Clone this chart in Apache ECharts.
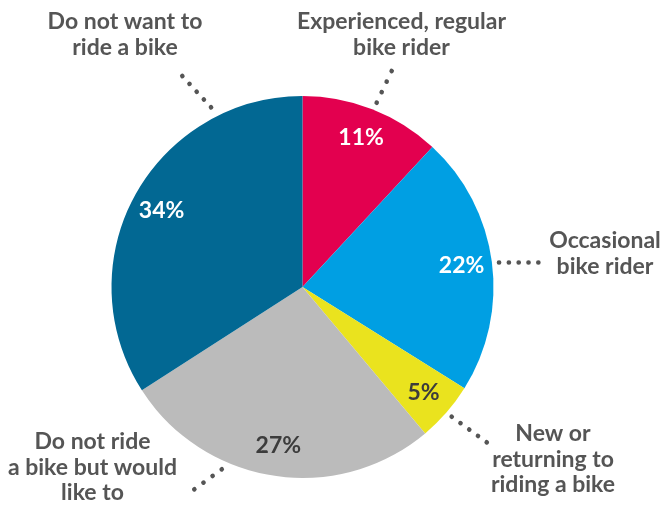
<!DOCTYPE html>
<html><head><meta charset="utf-8">
<script src="https://cdn.jsdelivr.net/npm/echarts@6/dist/echarts.min.js"></script>
<style>html,body{margin:0;padding:0;background:#fff}#c{width:663px;height:509px}</style>
</head><body><div id="c"></div>
<script>
const categories = ['Experienced, regular\nbike rider','Occasional\nbike rider','New or\nreturning to\nriding a bike','Do not ride\na bike but would\nlike to','Do not want to\nride a bike'];
const shares = [11.9, 22, 5, 27, 34.1];
const shareLabels = ['11%','22%','5%','27%','34%'];
const colors = ['#E3004F','#009FE3','#EAE31E','#BBBBBB','#026893'];
const labelColors = ['#ffffff','#ffffff','#3c3c3c','#3c3c3c','#ffffff'];

const FONT = 'Lato';
const TXT = '#555555';
const center = [302.5, 287];
const R = 191;

const chart = echarts.init(document.getElementById('c'), null, {renderer:'canvas'});
const data = categories.map((c,i)=>({name:c, value:shares[i], itemStyle:{color:colors[i]}}));
const labelData = categories.map((c,i)=>({name:c, value:shares[i], itemStyle:{color:'rgba(0,0,0,0)'},
  label:{color:labelColors[i]}}));

// outer annotations (order: label text, anchor)
const outer = [
  {text:categories[4], x:125, y:9},
  {text:categories[0], x:401.5, y:9},
  {text:categories[1], x:605, y:228},
  {text:categories[3], x:92.5, y:429},
  {text:categories[2], x:553, y:421}
];
// dotted leaders: start, end, number of dots
const leaders = [
  [[182.3,76],[211,107.3],5],
  [[391.7,71],[376.7,102.7],4],
  [[499,262.5],[538.3,262.5],5],
  [[194.3,489.3],[221.7,469.3],4],
  [[451.7,416.7],[486.7,442.3],5]
];
const graphic = [];
outer.forEach(o=>{
  graphic.push({type:'text', x:o.x, y:o.y, style:{text:o.text, fill:TXT, font:'bold 23px '+FONT, textAlign:'center', textVerticalAlign:'top', lineHeight:25.5}});
});
leaders.forEach(d=>{
  const len = Math.hypot(d[1][0]-d[0][0], d[1][1]-d[0][1]);
  const gap = len/(d[2]-1);
  graphic.push({type:'line', shape:{x1:d[0][0],y1:d[0][1],x2:d[1][0]+(d[1][0]-d[0][0])/len*0.5,y2:d[1][1]+(d[1][1]-d[0][1])/len*0.5},
    style:{stroke:'#555555', lineWidth:4.6, lineCap:'round', lineDash:[0.1,gap-0.1]}});
});

chart.setOption({
  animation:false,
  series:[
    {type:'pie', center:center, radius:[0,R], startAngle:90, clockwise:true, silent:true,
     label:{show:false}, labelLine:{show:false}, data:data},
    {type:'pie', center:center, radius:[124,R], startAngle:90, clockwise:true, silent:true,
     label:{show:true, position:'inside', fontFamily:FONT, fontWeight:'bold', fontSize:23,
       formatter:p=>shareLabels[p.dataIndex]},
     labelLine:{show:false}, data:labelData}
  ],
  graphic:graphic
});
</script></body></html>
